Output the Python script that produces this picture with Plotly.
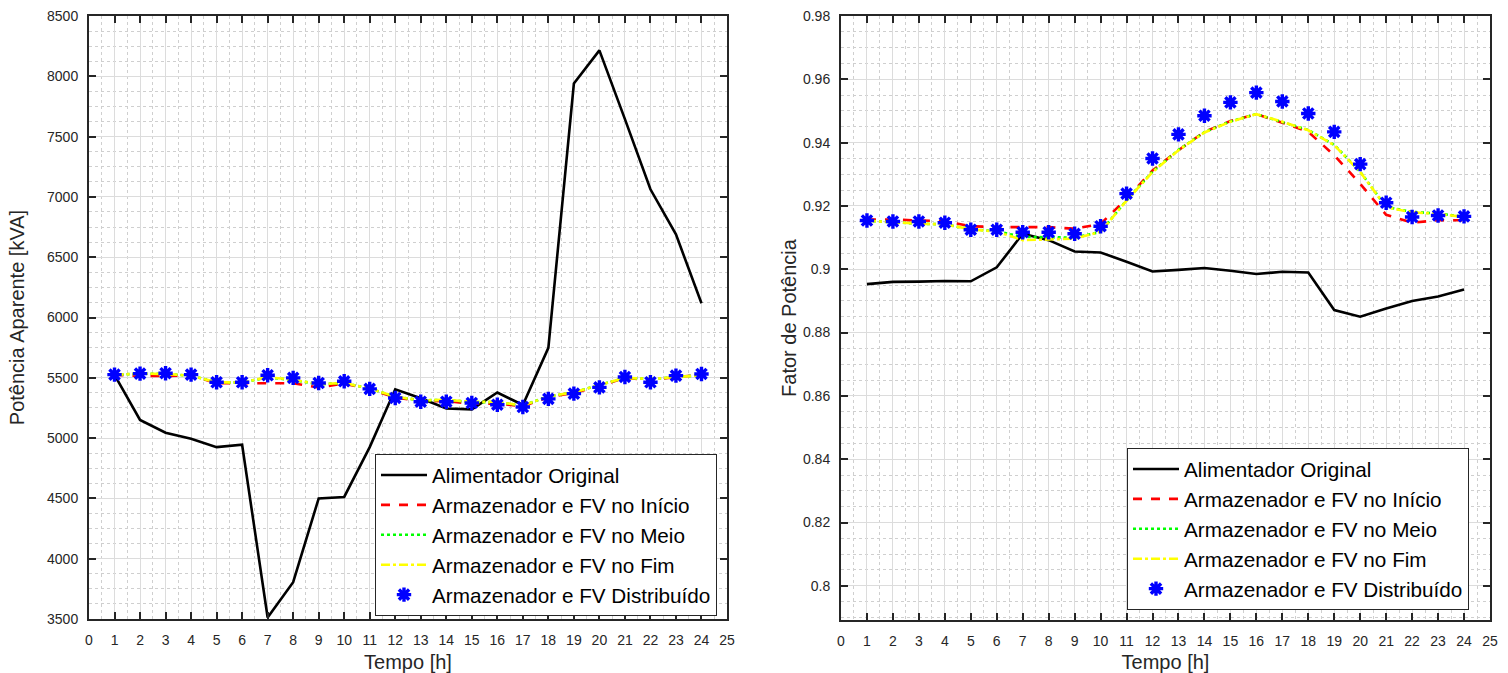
import plotly.graph_objects as go

# Hour of day
horas = list(range(1, 25))

# Apparent power [kVA]
s_original = [5525, 5150, 5045, 4995, 4925, 4945, 3512, 3805, 4500, 4512, 4925, 5405,
              5330, 5245, 5238, 5378, 5275, 5748, 7940, 8215, 7645, 7063, 6689, 6118]
s_inicio = [5525, 5515, 5515, 5522, 5455, 5455, 5460, 5455, 5420, 5452, 5405, 5338,
            5305, 5308, 5285, 5285, 5265, 5338, 5375, 5430, 5500, 5482, 5505, 5525]
s_meio = [5525, 5535, 5532, 5517, 5462, 5462, 5502, 5482, 5447, 5457, 5410, 5345,
          5312, 5318, 5298, 5298, 5270, 5345, 5380, 5440, 5500, 5490, 5507, 5522]
s_fim = [5525, 5535, 5532, 5517, 5462, 5462, 5505, 5484, 5447, 5457, 5410, 5345,
         5312, 5318, 5300, 5300, 5270, 5345, 5380, 5440, 5500, 5490, 5507, 5522]
s_distribuido = [5526, 5535, 5538, 5526, 5463, 5463, 5521, 5499, 5457, 5471, 5408, 5333,
                 5302, 5302, 5291, 5277, 5258, 5325, 5369, 5421, 5507, 5463, 5518, 5532]

# Power factor
fp_original = [0.8953, 0.8960, 0.8961, 0.8963, 0.8962, 0.9006, 0.9112, 0.9092, 0.9056, 0.9053,
               0.9024, 0.8993, 0.8998, 0.9004, 0.8995, 0.8985, 0.8992, 0.8990, 0.8871, 0.8850,
               0.8876, 0.8900, 0.8914, 0.8936]
fp_inicio = [0.9157, 0.9157, 0.9154, 0.9152, 0.9136, 0.9133, 0.9133, 0.9133, 0.9128, 0.9143,
             0.9223, 0.9312, 0.9376, 0.9434, 0.9468, 0.9490, 0.9463, 0.9434, 0.9360, 0.9270,
             0.9172, 0.9147, 0.9155, 0.9155]
fp_meio = [0.9153, 0.9148, 0.9144, 0.9142, 0.9126, 0.9120, 0.9102, 0.9101, 0.9100, 0.9118,
           0.9218, 0.9308, 0.9377, 0.9433, 0.9467, 0.9490, 0.9466, 0.9440, 0.9393, 0.9308,
           0.9197, 0.9181, 0.9176, 0.9166]
fp_fim = [0.9153, 0.9148, 0.9144, 0.9142, 0.9126, 0.9119, 0.9092, 0.9094, 0.9097, 0.9118,
          0.9217, 0.9307, 0.9376, 0.9432, 0.9466, 0.9490, 0.9466, 0.9439, 0.9392, 0.9307,
          0.9196, 0.9180, 0.9175, 0.9165]
fp_distribuido = [0.9154, 0.9151, 0.9151, 0.9147, 0.9125, 0.9125, 0.9117, 0.9117, 0.9112, 0.9136,
                  0.9239, 0.9350, 0.9426, 0.9485, 0.9527, 0.9558, 0.9530, 0.9492, 0.9434, 0.9332,
                  0.9210, 0.9165, 0.9170, 0.9167]

nomes = ["Alimentador Original", "Armazenador e FV no Início", "Armazenador e FV no Meio",
         "Armazenador e FV no Fim", "Armazenador e FV Distribuído"]

x_ticks = list(range(0, 26))
s_ticks = list(range(3500, 8501, 500))
fp_ticks = [0.80, 0.82, 0.84, 0.86, 0.88, 0.90, 0.92, 0.94, 0.96, 0.98]
fp_ticktext = ["0.8", "0.82", "0.84", "0.86", "0.88", "0.9", "0.92", "0.94", "0.96", "0.98"]

FONT = "Liberation Sans, Arial, sans-serif"
AXC = "#262626"

# Page and plot-area geometry in pixels
W, H = 1508, 673
ML, MR, MT, MB = 89, 18, 16, 53
PW, PH = W - ML - MR, H - MT - MB

fig = go.Figure()

def add_series(xa, ya, leg, series):
    styles = [
        dict(mode="lines", line=dict(color="black", width=2.6)),
        dict(mode="lines", line=dict(color="#ff0000", width=2.6, dash="dash")),
        dict(mode="lines", line=dict(color="#00ff00", width=2.6, dash="dot")),
        dict(mode="lines", line=dict(color="#ffff00", width=2.6, dash="dashdot")),
        dict(mode="markers", marker=dict(symbol="asterisk", size=12, color="#0000ff",
                                        line=dict(color="#0000ff", width=3.4))),
    ]
    for i, (nome, y, st) in enumerate(zip(nomes, series, styles)):
        fig.add_trace(go.Scatter(x=horas, y=y, name=nome, xaxis=xa, yaxis=ya, legend=leg,
                                 legendgroup=f"{leg}{i}", **st))

add_series("x", "y", "legend", [s_original, s_inicio, s_meio, s_fim, s_distribuido])
add_series("x2", "y2", "legend2", [fp_original, fp_inicio, fp_meio, fp_fim, fp_distribuido])

common = dict(
    automargin=False,
    showline=True, linecolor=AXC, linewidth=2, mirror="allticks",
    ticks="inside", ticklen=7, tickwidth=1.5, tickcolor=AXC,
    showgrid=True, gridcolor="#dcdcdc", gridwidth=1.2,
    zeroline=False, tickfont=dict(family=FONT, size=14, color=AXC),
    title_font=dict(family=FONT, size=20, color=AXC),
)
minor_x = dict(dtick=0.5, showgrid=True, gridcolor="#cfcfcf", griddash="dot", gridwidth=1, ticks="")

layout_x = dict(range=[0, 25], tickmode="array", tickvals=x_ticks, minor=minor_x,
                ticklabelstandoff=7,
                title=dict(text="Tempo [h]", standoff=14), **common)

legend_style = dict(xanchor="left", yanchor="top", bgcolor="white", bordercolor=AXC,
                    borderwidth=1, font=dict(family=FONT, size=20.7, color="black"),
                    tracegroupgap=0, itemwidth=46)

def px_x(px):
    return (px - ML) / PW

def px_y(py):
    return (H - MB - py) / PH

fig.update_layout(
    width=W, height=H,
    margin=dict(l=ML, r=MR, t=MT, b=MB, autoexpand=False),
    paper_bgcolor="white", plot_bgcolor="white",
    showlegend=True,
    xaxis=dict(domain=[0, px_x(727)], anchor="y", **layout_x),
    xaxis2=dict(domain=[px_x(841), 1], anchor="y2", **layout_x),
    yaxis=dict(domain=[px_y(619), 1], anchor="x", range=[3500, 8500],
               tickmode="array", tickvals=s_ticks,
               minor=dict(dtick=125, tick0=3500, showgrid=True, gridcolor="#cfcfcf",
                          griddash="dot", gridwidth=1, ticks=""),
               title=dict(text="Potência Aparente [kVA]", standoff=17),
               ticklabelstandoff=6, **common),
    yaxis2=dict(domain=[0, 1], anchor="x2", range=[0.7892, 0.98],
                tickmode="array", tickvals=fp_ticks, ticktext=fp_ticktext,
                minor=dict(dtick=0.005, tick0=0.8, showgrid=True, gridcolor="#cfcfcf",
                           griddash="dot", gridwidth=1, ticks=""),
                title=dict(text="Fator de Potência", standoff=1),
                ticklabelstandoff=6, **common),
    legend=dict(x=px_x(375), y=px_y(454), **legend_style),
    legend2=dict(x=px_x(1127), y=px_y(448), **legend_style),
)

fig.write_html("out.html")
